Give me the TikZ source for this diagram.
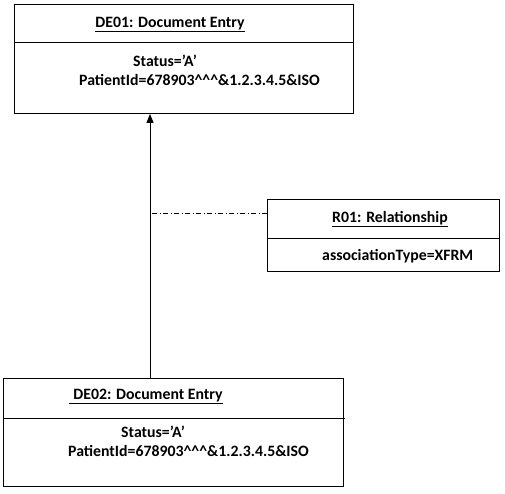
\documentclass[tikz,border=0pt]{standalone}
\usepackage{fontspec}
\setmainfont{Carlito}
\usetikzlibrary{arrows.meta}
\begin{document}
\begin{tikzpicture}[x=1pt,y=-1pt,
  box/.style={draw,line width=0.9pt,inner sep=0pt,anchor=north west},
  txt/.style={font=\fontsize{15.8}{18}\selectfont\bfseries,inner sep=0pt,anchor=base west},
  ttl/.style={font=\fontsize{15.8}{18}\selectfont\bfseries,inner sep=0pt,anchor=base},
  conn/.style={line width=0.9pt}]
\useasboundingbox (0,0) rectangle (505,493);
% DE01
\node[box,minimum width=339pt,minimum height=109pt] (de01) at (14,4) {};
\draw[conn] (de01.west |- 0,42) coordinate (d1l) -- (d1l -| de01.east);
\node[ttl] (t1) at (170,27) {\underline{DE01: Document Entry}};
\node[txt] (s1) at (133,66) {Status=’A’};
\node[txt] (p1) at (79,85) {PatientId=678903\string^\string^\string^\&1.2.3.4.5\&ISO};
% R01
\node[box,minimum width=232pt,minimum height=72pt] (r01) at (267,199) {};
\draw[conn] (r01.west |- 0,238) coordinate (r1l) -- (r1l -| r01.east);
\node[ttl] (t3) at (390,222) {\underline{R01: Relationship}};
\node[txt] (a3) at (322,260) {associationType=XFRM};
% DE02
\node[box,minimum width=340pt,minimum height=108pt] (de02) at (3,378) {};
\draw[conn] (de02.west |- 0,418) coordinate (d2l) -- ([xshift=1pt]d2l -| de02.east);
\node[ttl] (t2) at (146,399) {\underline{\hspace{4pt}DE02: Document Entry}};
\node[txt] (s2) at (121,437) {Status=’A’};
\node[txt] (p2) at (68,456) {PatientId=678903\string^\string^\string^\&1.2.3.4.5\&ISO};
% connectors
\coordinate (ax) at (150,0);
\draw[conn,-{Triangle[width=7pt,length=9pt]}] (de02.north -| ax) -- (de01.south -| ax);
\coordinate (dd) at (152,213);
\draw[line width=0.7pt,dash pattern=on 5pt off 2.5pt on 1pt off 2.5pt] (dd) -- (dd -| r01.west);
\end{tikzpicture}
\end{document}
